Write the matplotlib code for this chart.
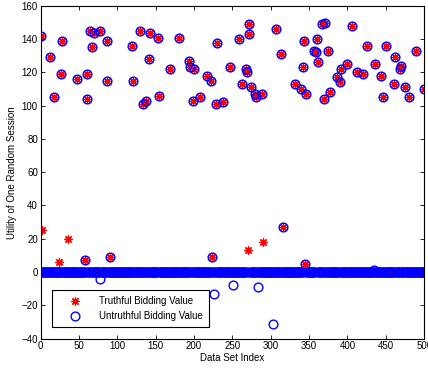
import numpy as np
import matplotlib
matplotlib.use("Agg")
import matplotlib.pyplot as plt

plt.rcParams["font.family"] = ["Liberation Sans", "DejaVu Sans"]

# === Datos ===
N_SETS = 500

# sesiones donde ambos valores coinciden (indice, utilidad)
idx_both = [1, 12, 17, 28, 27, 47, 58, 60, 61, 64, 69, 67, 77, 87, 86, 119, 120, 130,
            134, 137, 141, 143, 153, 153, 154, 169, 180, 194, 195, 200, 198, 208, 217,
            222, 229, 230, 238, 247, 259, 263, 268, 269, 271, 272, 274, 280, 281, 289,
            307, 314, 332, 340, 343, 342, 345, 346, 356, 359, 360, 362, 367, 371, 370,
            375, 377, 387, 390, 391, 400, 406, 412, 420, 426, 436, 444, 447, 450, 462,
            461, 470, 469, 475, 480, 490, 500,
            58, 90, 223, 316, 345]
val_both = [142, 129, 105, 139, 119, 116, 112, 119, 104, 145, 144, 135, 145, 139, 115,
            136, 115, 145, 101, 103, 128, 144, 127, 141, 106, 122, 141, 127, 123, 122,
            103, 105, 118, 115, 101, 138, 102, 123, 140, 113, 122, 120, 149, 143, 111,
            107, 105, 107, 146, 131, 113, 110, 139, 123, 114, 107, 133, 132, 140, 126,
            149, 150, 104, 133, 108, 117, 114, 122, 125, 148, 120, 119, 136, 125, 118,
            105, 136, 129, 113, 124, 122, 111, 105, 133, 110,
            7, 9, 9, 27, 5]

# solo el valor veraz distinto de cero
idx_truth = [2, 24, 36, 270, 290]
val_truth = [25, 6, 20, 13, 18]

# solo el valor no veraz distinto de cero
idx_untruth = [78, 226, 251, 283, 303, 434]
val_untruth = [-4, -13, -8, -9, -31, 1.5]

x = np.arange(1, N_SETS + 1)
truthful = np.zeros(N_SETS)
untruthful = np.zeros(N_SETS)
for i, v in zip(idx_both, val_both):
    truthful[i - 1] = v
    untruthful[i - 1] = v
for i, v in zip(idx_truth, val_truth):
    truthful[i - 1] = v
for i, v in zip(idx_untruth, val_untruth):
    untruthful[i - 1] = v

fig = plt.figure(figsize=(4.28, 3.70), dpi=100)
ax = fig.add_axes([0.095, 0.085, 0.896, 0.899])

ax.plot(x, truthful, linestyle="none", marker=(8, 2, 0), color="red",
        markersize=6, markeredgewidth=0.9, label="Truthful Bidding Value")
ax.plot(x, untruthful, linestyle="none", marker="o", markerfacecolor="none",
        markeredgecolor="blue", markersize=6.3, markeredgewidth=1.0,
        label="Untruthful Bidding Value")

ax.set_xlim(0, 500)
ax.set_ylim(-40, 160)
ax.set_xticks(np.arange(0, 501, 50))
ax.set_yticks(np.arange(-40, 161, 20))
ax.tick_params(direction="in", top=True, right=True, length=3, width=0.6,
               labelsize=7, pad=2)
for s in ax.spines.values():
    s.set_linewidth(0.8)

ax.set_xlabel("Data Set Index", fontsize=7, labelpad=1)
ax.set_ylabel("Utility of One Random Session", fontsize=7, labelpad=3)

leg = ax.legend(loc="lower left", bbox_to_anchor=(0.029, 0.035), borderaxespad=0,
                fontsize=7, fancybox=False, framealpha=1, edgecolor="black",
                handlelength=3.5, borderpad=0.6, labelspacing=0.5)
leg.get_frame().set_linewidth(0.8)

fig.savefig("out.png", dpi=100)
